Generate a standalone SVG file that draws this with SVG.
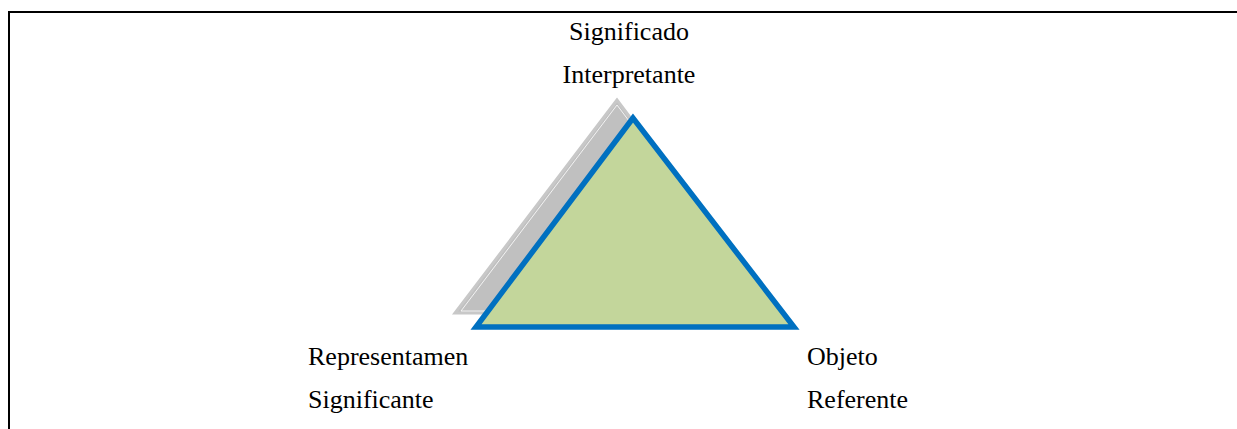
<svg xmlns="http://www.w3.org/2000/svg" width="1237" height="429" viewBox="0 0 1237 429">
<style>
.t{font-family:"Liberation Serif","Times New Roman",serif;font-size:26px;fill:#000}
.c{text-anchor:middle}
</style>
<rect width="1237" height="429" fill="#fff"/>
<g id="frame"><path d="M9,440 V12 H1250" fill="none" stroke="#000" stroke-width="2"/></g>
<g id="shadow">
<polygon points="617,100 455,313 777,313" fill="#c0c0c0" stroke="#c8c8c8" stroke-width="3" stroke-linejoin="miter"/>
<polygon points="617,105 461,311 772,311" fill="none" stroke="#fff" stroke-width="0.8"/>
</g>
<g id="triangle"><polygon points="633,118 476,327 794,327" fill="#c3d69b" stroke="#0070c0" stroke-width="5.5" stroke-linejoin="miter"/></g>
<g id="top-label"><text class="t c" x="629" y="40">Significado</text><text class="t c" x="629" y="83">Interpretante</text></g>
<g id="left-label"><text class="t" x="308" y="365">Representamen</text><text class="t" x="308" y="408">Significante</text></g>
<g id="right-label"><text class="t" x="807" y="365">Objeto</text><text class="t" x="807" y="408">Referente</text></g>
</svg>
